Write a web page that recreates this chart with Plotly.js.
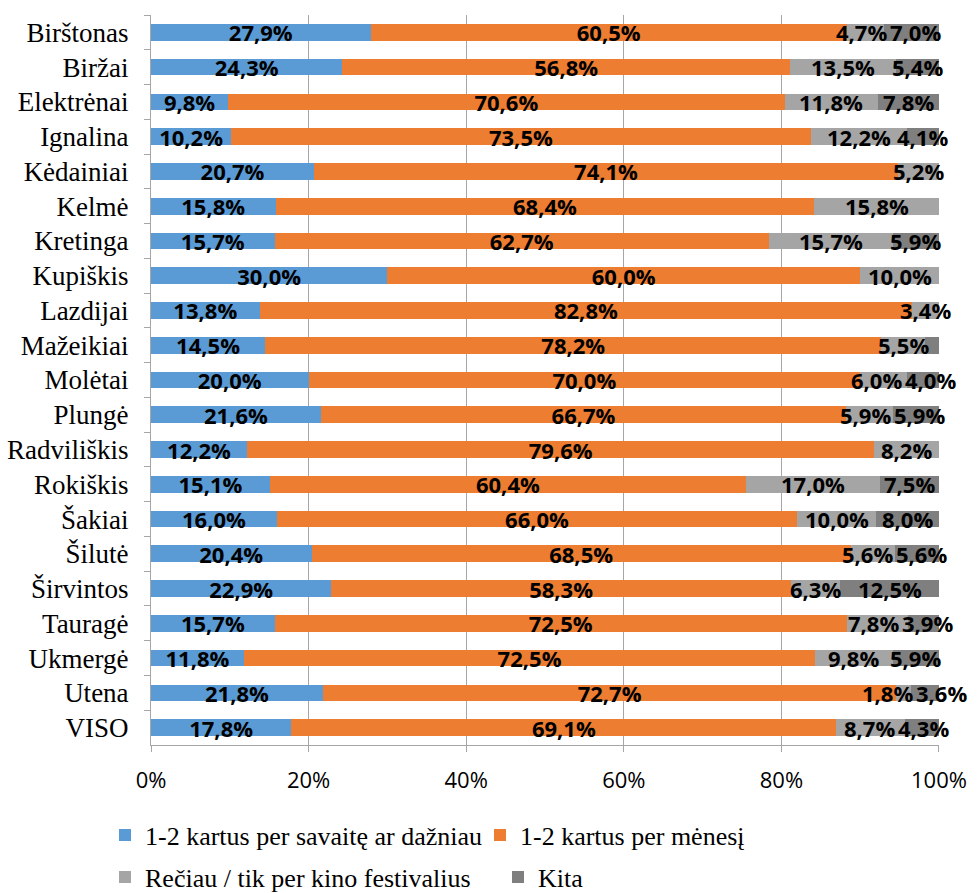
<!DOCTYPE html>
<html><head><meta charset="utf-8">
<script src="https://cdn.plot.ly/plotly-3.0.1.min.js"></script>
<style>html,body{margin:0;padding:0;background:#fff}</style>
</head><body>
<div id="chart" style="width:980px;height:893px"></div>
<script>
const categories = ["Birštonas","Biržai","Elektrėnai","Ignalina","Kėdainiai","Kelmė","Kretinga","Kupiškis","Lazdijai","Mažeikiai","Molėtai","Plungė","Radviliškis","Rokiškis","Šakiai","Šilutė","Širvintos","Tauragė","Ukmergė","Utena","VISO"];
const weekly  = [27.9,24.3,9.8,10.2,20.7,15.8,15.7,30.0,13.8,14.5,20.0,21.6,12.2,15.1,16.0,20.4,22.9,15.7,11.8,21.8,17.8];
const monthly = [60.5,56.8,70.6,73.5,74.1,68.4,62.7,60.0,82.8,78.2,70.0,66.7,79.6,60.4,66.0,68.5,58.3,72.5,72.5,72.7,69.1];
const rarely  = [4.7,13.5,11.8,12.2,5.2,15.8,15.7,10.0,3.4,5.5,6.0,5.9,8.2,17.0,10.0,5.6,6.3,7.8,9.8,1.8,8.7];
const other   = [7.0,5.4,7.8,4.1,0,0,5.9,0,0,1.8,4.0,5.9,0,7.5,8.0,5.6,12.5,3.9,5.9,3.6,4.3];
const hiddenOtherLabels = ["Mažeikiai"];
const seriesNames = ["1-2 kartus per savaitę ar dažniau","1-2 kartus per mėnesį","Rečiau / tik per kino festivalius","Kita"];
const colors = ["#5B9BD5","#ED7D31","#A5A5A5","#7F7F7F"];

const allVals = [weekly, monthly, rarely, other];
const totals = categories.map((c,i)=> allVals.reduce((s,a)=>s+a[i],0));
const norm = allVals.map(vals => vals.map((v,i)=>v/totals[i]*100));
function fmt(v){ return v.toFixed(1).replace('.',',')+'%'; }
function labels(vals, hidden){
  return vals.map((v,i)=> (v>0 && !(hidden||[]).includes(categories[i])) ? fmt(v) : '');
}
const labelFont = {family:'"Open Sans", sans-serif', size:22, color:'#000', weight:700};

// bar traces; first two series carry their labels as bar text
const traces = allVals.map((vals,k)=>({
  type:'bar', orientation:'h', x:norm[k], y:categories, name:seriesNames[k],
  marker:{color:colors[k], line:{width:0}},
  text: k<2 ? labels(vals) : undefined,
  textposition: k<2 ? 'inside' : 'none', insidetextanchor:'middle', constraintext:'none', textangle:0,
  textfont:labelFont,
  hoverinfo:'none', cliponaxis:false,
  legend: k<2 ? 'legend' : 'legend2'
}));

// labels of the two narrow right-hand series as annotations, nudged apart when they collide
const margin = {l:151, r:41, t:15, b:148};
const pxPerUnit = (980 - margin.l - margin.r) / 100;
function textWidth(s){
  let w = 0;
  for (const ch of s) w += (ch===',') ? 0.30 : (ch==='%') ? 0.87 : 0.572;
  return w * labelFont.size;
}
const annotations = [];
categories.forEach((cat,i)=>{
  const start2 = norm[0][i] + norm[1][i];
  const c2 = start2 + norm[2][i]/2;
  const c3 = start2 + norm[2][i] + norm[3][i]/2;
  const t2 = rarely[i] > 0 ? fmt(rarely[i]) : '';
  const t3 = (other[i] > 0 && !hiddenOtherLabels.includes(cat)) ? fmt(other[i]) : '';
  let s2 = 0, s3 = 0;
  if (t2 && t3) {
    const overlap = ((c2 - c3) * pxPerUnit) + (textWidth(t2) + textWidth(t3)) / 2 + 3;
    if (overlap > 0) { s2 = -overlap/2; s3 = overlap/2; }
  }
  if (t2) annotations.push({x:c2, y:cat, xref:'x', yref:'y', text:t2, showarrow:false, xshift:s2,
    xanchor:'center', yanchor:'middle', font:labelFont, borderpad:0});
  if (t3) annotations.push({x:c3, y:cat, xref:'x', yref:'y', text:t3, showarrow:false, xshift:s3,
    xanchor:'center', yanchor:'middle', font:labelFont, borderpad:0});
});

const plotL = 151, plotW = 788, plotB = 745, plotH = 730;
const layout = {
  width:980, height:893,
  margin:Object.assign({autoexpand:false}, margin),
  barmode:'stack', bargap:0.52,
  paper_bgcolor:'#fff', plot_bgcolor:'#fff',
  font:{family:'"Liberation Serif", serif', color:'#000'},
  showlegend:true,
  annotations: annotations,
  xaxis:{range:[0,100.001], dtick:20, tick0:0, ticksuffix:'%', showgrid:true, gridcolor:'#A6A6A6', gridwidth:1,
    zeroline:false, showline:true, linecolor:'#A6A6A6', linewidth:1, ticks:'outside', ticklen:6, tickcolor:'#A6A6A6',
    ticklabelstandoff:10, tickfont:{family:'"Open Sans", sans-serif', size:22, color:'#000'}, fixedrange:true},
  yaxis:{autorange:'reversed', showline:true, linecolor:'#A6A6A6', linewidth:1, ticks:'outside', tickson:'boundaries',
    ticklen:6, tickcolor:'#A6A6A6', showgrid:false, ticklabelstandoff:16,
    tickfont:{family:'"Liberation Serif", serif', size:27, color:'#000'}, fixedrange:true},
  legend:{orientation:'h', traceorder:'normal', xref:'paper', yref:'paper', x:(105-plotL)/plotW, y:(plotB-835)/plotH,
    xanchor:'left', yanchor:'middle',
    font:{family:'"Liberation Serif", serif', size:26, color:'#000'}, itemwidth:30, entrywidth:330, bgcolor:'rgba(0,0,0,0)'},
  legend2:{orientation:'h', traceorder:'normal', xref:'paper', yref:'paper', x:(105-plotL)/plotW, y:(plotB-877)/plotH,
    xanchor:'left', yanchor:'middle',
    font:{family:'"Liberation Serif", serif', size:26, color:'#000'}, itemwidth:30, entrywidth:348, bgcolor:'rgba(0,0,0,0)'}
};
Plotly.newPlot('chart', traces, layout, {displayModeBar:false, staticPlot:true});
</script>
</body></html>
